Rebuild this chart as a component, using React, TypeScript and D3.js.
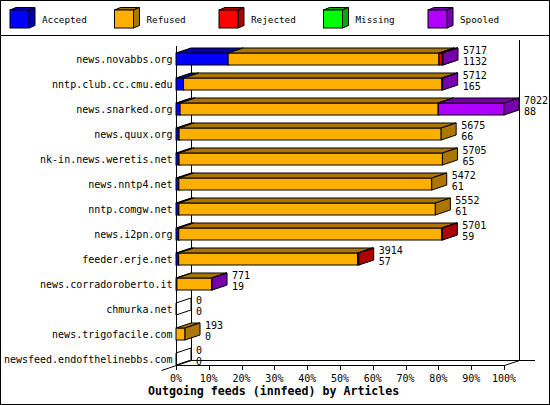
import React from "react";
import * as d3 from "d3";

const hosts = [
  "news.novabbs.org",
  "nntp.club.cc.cmu.edu",
  "news.snarked.org",
  "news.quux.org",
  "nk-in.news.weretis.net",
  "news.nntp4.net",
  "nntp.comgw.net",
  "news.i2pn.org",
  "feeder.erje.net",
  "news.corradoroberto.it",
  "chmurka.net",
  "news.trigofacile.com",
  "newsfeed.endofthelinebbs.com",
];
const offeredLabels = ["5717", "5712", "7022", "5675", "5705", "5472", "5552", "5701", "3914", "771", "0", "193", "0"];
const acceptedLabels = ["1132", "165", "88", "66", "65", "61", "61", "59", "57", "19", "0", "0", "0"];

// percentages of the largest feed
const accepted = [15.9, 2.3, 1.25, 0.94, 0.93, 0.87, 0.87, 0.84, 0.81, 0.27, 0, 0, 0];
const refused = [64.3, 78.8, 78.7, 79.9, 80.3, 77.1, 78.2, 80.2, 54.6, 10.6, 0, 2.75, 0];
const rejected = [1.0, 0, 0, 0, 0, 0, 0, 0.15, 0.3, 0, 0, 0, 0];
const missing = [0, 0, 0, 0, 0, 0, 0, 0, 0, 0, 0, 0, 0];
const spooled = [0.2, 0.2, 20.05, 0, 0, 0, 0, 0, 0, 0.1, 0, 0, 0];

const seriesNames = ["Accepted", "Refused", "Rejected", "Missing", "Spooled"];
const seriesColors = ["#0000ff", "#ffaf00", "#ff0000", "#00ff00", "#af00ff"];
const ticks = [0, 10, 20, 30, 40, 50, 60, 70, 80, 90, 100];

const W = 550;
const H = 405;
const DX = 15;
const DY = -5;
const FONT = "'DejaVu Sans Mono', monospace";

function dark(c: string) {
  return d3.color(c)!.darker(1.1).formatHex();
}

export default function App() {
  const x = d3.scaleLinear().domain([0, 100]).range([176, 504]);
  const y = d3.scaleBand<string>().domain(hosts).range([46.5, 371.5]);
  const floorY = 365;
  const series = [accepted, refused, rejected, missing, spooled];
  const rows = hosts.map((h, i) => {
    const cy = (y(h) as number) + y.bandwidth() / 2;
    let acc = 0;
    const segs = series
      .map((s, k) => {
        const v0 = acc;
        acc += s[i];
        return { k, v0, v1: acc, v: s[i] };
      })
      .filter((d) => d.v > 0);
    return { h, i, cy, segs, total: acc };
  });

  const bar = (x0: number, x1: number, top: number, bot: number, color: string, key: string) => {
    const dk = dark(color);
    return (
      <g key={key} stroke="#000" strokeWidth={1} strokeLinejoin="miter">
        <rect x={x0} y={top} width={x1 - x0} height={bot - top} fill={color} />
        <polygon points={`${x0},${top} ${x1},${top} ${x1 + DX},${top + DY} ${x0 + DX},${top + DY}`} fill={dk} />
        <polygon points={`${x1},${top} ${x1 + DX},${top + DY} ${x1 + DX},${bot + DY} ${x1},${bot}`} fill={dk} />
      </g>
    );
  };

  return (
    <svg width={W} height={H} style={{ position: "absolute", left: 0, top: 0, background: "#fff" }} fontFamily={FONT}>
      <rect x={0.5} y={0.5} width={W - 1} height={H - 1} fill="#fff" stroke="#000" />
      <line x1={0} x2={W} y1={35.5} y2={35.5} stroke="#000" />
      {/* legend */}
      {seriesNames.map((n, k) => {
        const lx = 10 + 104.5 * k;
        const c = seriesColors[k];
        const dk = dark(c);
        return (
          <g key={n}>
            <polygon points={`${lx},10 ${lx + 19},10 ${lx + 25},7.5 ${lx + 6},7.5`} fill={dk} stroke="#000" />
            <polygon points={`${lx + 19},10 ${lx + 25},7.5 ${lx + 25},25.5 ${lx + 19},28`} fill={dk} stroke="#000" />
            <rect x={lx} y={10} width={19} height={18} fill={c} stroke="#000" />
            <text x={lx + 32} y={22.5} fontSize={9.3} fill="#000">{n}</text>
          </g>
        );
      })}
      {/* walls */}
      <g stroke="#000" strokeWidth={1} fill="none">
        <line x1={176.5} x2={176.5} y1={46} y2={floorY} />
        <line x1={191.5} x2={191.5} y1={48} y2={floorY + DY} />
        <line x1={519.5} x2={519.5} y1={40} y2={floorY + DY + 0.5} />
        <line x1={191} x2={535} y1={floorY + DY + 0.5} y2={floorY + DY + 0.5} />
        <line x1={176} x2={504} y1={floorY + 0.5} y2={floorY + 0.5} />
        <line x1={161.5} y1={floorY + 5.5} x2={191.5} y2={floorY + DY + 0.5} />
        <line x1={504.5} y1={floorY + 0.5} x2={519.5} y2={floorY + DY + 0.5} />
        {ticks.map((t) => (
          <line key={t} x1={Math.round(x(t)) + 0.5} x2={Math.round(x(t)) + 0.5} y1={floorY} y2={floorY + 5} />
        ))}
      </g>
      {ticks.map((t) => (
        <text key={t} x={x(t)} y={382} textAnchor="middle" fontSize={10} fill="#000">{`${t}%`}</text>
      ))}
      {/* bars */}
      {rows.map((r) => {
        const top = r.cy - 6;
        const bot = r.cy + 6;
        const xEnd = x(r.total);
        return (
          <g key={r.h}>
            <text x={172.5} y={r.cy + 3.5} textAnchor="end" fontSize={10} fill="#000">{r.h}</text>
            {r.segs.length === 0 ? (
              <polygon
                points={`${x(0)},${top} ${x(0) + DX},${top + DY} ${x(0) + DX},${bot + DY} ${x(0)},${bot}`}
                fill="none"
                stroke="#000"
              />
            ) : (
              r.segs.map((s) => bar(x(s.v0), x(s.v1), top, bot, seriesColors[s.k], `${r.h}-${s.k}`))
            )}
            <text x={xEnd + DX + 5} y={r.cy - 5.5} fontSize={10} fill="#000">{offeredLabels[r.i]}</text>
            <text x={xEnd + DX + 5} y={r.cy + 6} fontSize={10} fill="#000">{acceptedLabels[r.i]}</text>
          </g>
        );
      })}
      <text x={148} y={395} fontSize={11.6} fontWeight="bold" fill="#000">Outgoing feeds (innfeed) by Articles</text>
    </svg>
  );
}
